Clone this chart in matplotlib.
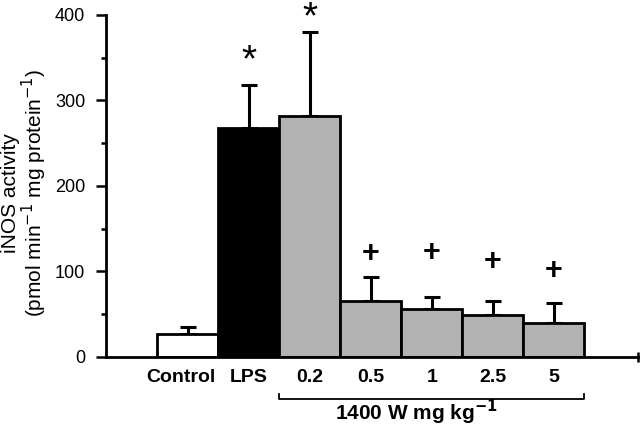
import matplotlib
matplotlib.use("Agg")
import matplotlib.pyplot as plt
import matplotlib.transforms as mtransforms

plt.rcParams['font.family'] = ['Liberation Sans', 'DejaVu Sans']

groups = ["Control", "LPS", "0.2", "0.5", "1", "2.5", "5"]
activity = [27, 268, 282, 66, 56, 49, 40]
sem = [8, 50, 98, 28, 14, 17, 23]
colors = ["white", "black", "#b2b2b2", "#b2b2b2", "#b2b2b2", "#b2b2b2", "#b2b2b2"]
marks = ["", "*", "*", "+", "+", "+", "+"]
mark_y = [0, 346, 396, 120, 122, 111, 100]

fig = plt.figure(figsize=(6.4, 4.26), dpi=100)
ax = fig.add_axes([0.1656, 0.162, 0.8314, 0.803])

x = list(range(len(groups)))
ax.bar(x, activity, width=1.0, color=colors, edgecolor="black", linewidth=2, zorder=2)
ax.errorbar(x, activity, yerr=[[0] * len(sem), sem], fmt="none", ecolor="black",
            elinewidth=2.2, capsize=5.5, capthick=2.2, zorder=1)

for xi, m, my in zip(x, marks, mark_y):
    if m:
        ax.text(xi, my, m, ha="center", va="center", fontsize=22 if m == "+" else 28,
                fontweight="bold" if m == "+" else "normal", clip_on=False)

xmin, xmax = -1.34, 7.38
ax.set_xlim(xmin, xmax)
ax.set_ylim(0, 400)
ax.set_yticks([0, 100, 200, 300, 400])
ax.set_yticks([50, 150, 250, 350], minor=True)
ax.set_xticks(x)
ax.set_xticklabels(groups, fontsize=14, fontweight="bold")
ax.set_xticks([xmax], minor=True)
ax.tick_params(axis="x", which="major", length=0, pad=9)
ax.tick_params(axis="x", which="minor", direction="inout", length=7, width=1.8)
ax.tick_params(axis="y", which="major", direction="out", length=7, width=1.8, labelsize=13, pad=8)
ax.tick_params(axis="y", which="minor", direction="out", length=3.5, width=1.8)

# nudge "Control" a bit to the left, as in the original
lbl = ax.get_xticklabels()[0]
lbl.set_transform(lbl.get_transform() + mtransforms.ScaledTranslation(-7 / 100, 0, fig.dpi_scale_trans))

for s in ["top", "right"]:
    ax.spines[s].set_visible(False)
for s in ["left", "bottom"]:
    ax.spines[s].set_linewidth(2)

fig.text(25 / 640, 0.547, "iNOS activity\n(pmol min$^{-1}$ mg protein$^{-1}$)", rotation=90,
         ha="center", va="center", fontsize=15, linespacing=0.95, multialignment="center")

# bracket under the 1400 W doses
trans = mtransforms.blended_transform_factory(ax.transData, ax.transAxes)
by = -0.123
ax.plot([1.5, 1.5, 6.5, 6.5], [by + 0.015, by, by, by + 0.015], color="black", lw=1.3,
        transform=trans, clip_on=False)
ax.text(3.74, -0.163, "1400 W mg kg$^{\\mathbf{-1}}$", transform=trans, ha="center", va="center",
        fontsize=15, fontweight="bold")

fig.savefig("out.png", dpi=100)
